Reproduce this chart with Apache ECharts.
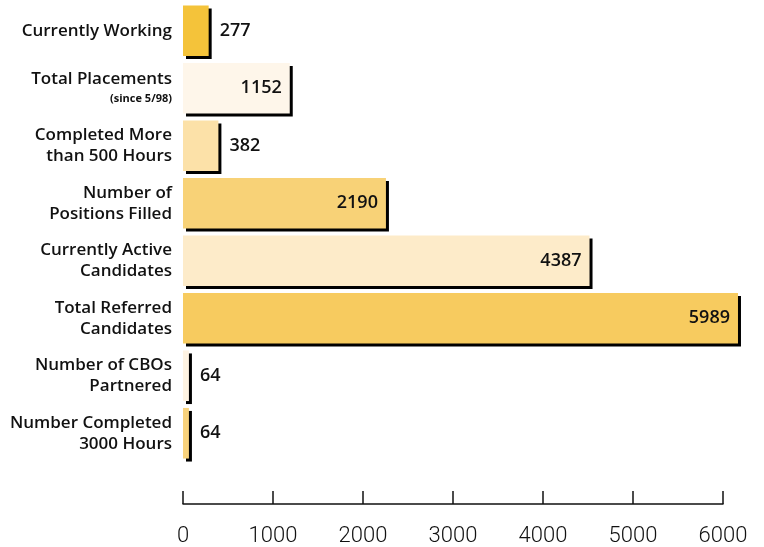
<!DOCTYPE html>
<html>
<head>
<meta charset="utf-8">
<script src="https://cdn.jsdelivr.net/npm/echarts@6/dist/echarts.min.js"></script>
<style>
  html, body { margin: 0; padding: 0; background: #fff; }
  #chart { width: 764px; height: 547px; }
</style>
</head>
<body>
<div id="chart"></div>
<script>
  // chart data, top to bottom
  var categories = [
    'Currently Working',
    'Total Placements',
    'Completed More\nthan 500 Hours',
    'Number of\nPositions Filled',
    'Currently Active\nCandidates',
    'Total Referred\nCandidates',
    'Number of CBOs\nPartnered',
    'Number Completed\n3000 Hours'
  ];
  var values = [277, 1152, 382, 2190, 4387, 5989, 64, 64];
  var tickValues = [0, 1000, 2000, 3000, 4000, 5000, 6000];

  var barColors = ['#F4C33A', '#FEF6EA', '#FCE1A8', '#F8D277', '#FDEBC9', '#F7CB5F', '#FEF3E2', '#F8D27C'];
  var insideLabel = [false, true, false, true, true, true, false, false];

  var chart = echarts.init(document.getElementById('chart'));

  var seriesData = values.map(function (v, i) {
    return {
      value: v,
      itemStyle: {color: barColors[i]},
      label: insideLabel[i]
        ? {position: 'insideRight', distance: 8}
        : {position: 'right', distance: 11}
    };
  });

  var xMin = tickValues[0];
  var xMax = tickValues[tickValues.length - 1];

  var option = {
    animation: false,
    grid: [
      // bars
      {left: 183, width: 556, top: 2, bottom: 85},
      // scale line below the bars
      {left: 183, right: 41, top: 490, bottom: 42}
    ],
    xAxis: [
      {
        gridIndex: 0,
        type: 'value',
        min: xMin,
        max: xMax,
        show: false
      },
      {
        gridIndex: 1,
        type: 'value',
        min: xMin,
        max: xMax,
        interval: 1000,
        splitLine: {show: false},
        axisLine: {show: true, lineStyle: {color: '#111', width: 1.5}},
        axisTick: {show: true, inside: true, length: 13, lineStyle: {color: '#111', width: 1.5}},
        axisLabel: {
          margin: 21,
          color: '#111',
          fontFamily: 'Roboto',
          fontWeight: 300,
          fontSize: 22,
          formatter: function (v) { return String(v); }
        }
      }
    ],
    yAxis: [
      {
        gridIndex: 0,
        type: 'category',
        inverse: true,
        data: categories,
        axisLine: {show: false},
        axisTick: {show: false},
        axisLabel: {
          margin: 11,
          color: '#111',
          fontFamily: 'Open Sans',
          fontWeight: 600,
          fontSize: 17,
          lineHeight: 21,
          align: 'right',
          formatter: function (val) {
            if (val === 'Total Placements') {
              return val + '\n{small|(since 5/98)}';
            }
            return val;
          },
          rich: {
            small: {
              fontFamily: 'Open Sans',
              fontWeight: 700,
              fontSize: 11,
              color: '#111',
              lineHeight: 18
            }
          }
        }
      },
      {
        gridIndex: 1,
        type: 'category',
        show: false
      }
    ],
    series: [
      {
        type: 'bar',
        xAxisIndex: 0,
        yAxisIndex: 0,
        data: seriesData,
        barCategoryGap: '12%',
        itemStyle: {
          shadowColor: '#000',
          shadowBlur: 0,
          shadowOffsetX: 3,
          shadowOffsetY: 3
        },
        label: {
          show: true,
          color: '#111',
          fontFamily: 'Open Sans',
          fontWeight: 600,
          fontSize: 18
        }
      }
    ]
  };

  chart.setOption(option);
  window.addEventListener('resize', function () {
    chart.resize();
  });
</script>
</body>
</html>
